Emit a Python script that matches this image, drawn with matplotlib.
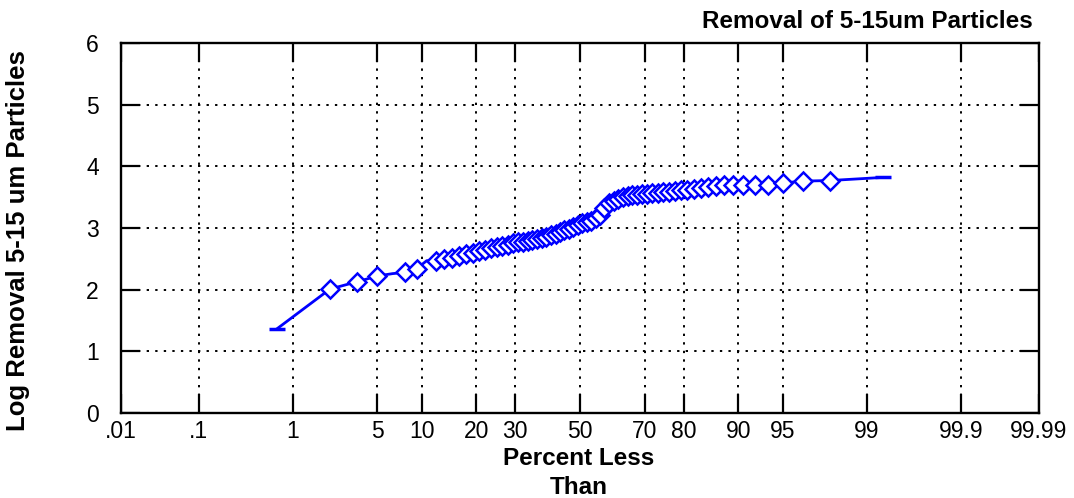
import numpy as np
import matplotlib
matplotlib.use('Agg')
import matplotlib.pyplot as plt
from statistics import NormalDist

plt.rcParams['font.family'] = ['Liberation Sans', 'DejaVu Sans']

# Plotting positions (percent less than) and log removal values
percent_less = [0.71, 2.14, 3.57, 5.00, 6.43, 7.86, 9.29, 10.71, 12.14, 13.57,
                15.00, 16.43, 17.86, 19.29, 20.71, 22.14, 23.57, 25.00, 26.43, 27.86,
                29.29, 30.71, 32.14, 33.57, 35.00, 36.43, 37.86, 39.29, 40.71, 42.14,
                43.57, 45.00, 46.43, 47.86, 49.29, 50.71, 52.14, 53.57, 55.00, 56.43,
                57.86, 59.29, 60.71, 62.14, 63.57, 65.00, 66.43, 67.86, 69.29, 70.71,
                72.14, 73.57, 75.00, 76.43, 77.86, 79.29, 80.71, 82.14, 83.57, 85.00,
                86.43, 87.86, 89.29, 90.71, 92.14, 93.57, 95.00, 96.43, 97.86, 99.29]
log_removal = [1.37, 2.01, 2.13, 2.22, 2.26, 2.28, 2.34, 2.47, 2.47, 2.49,
               2.52, 2.55, 2.58, 2.60, 2.62, 2.65, 2.67, 2.69, 2.71, 2.73,
               2.75, 2.77, 2.78, 2.79, 2.80, 2.82, 2.84, 2.86, 2.88, 2.90,
               2.93, 2.96, 2.99, 3.02, 3.05, 3.08, 3.10, 3.12, 3.16, 3.21,
               3.33, 3.40, 3.44, 3.47, 3.50, 3.52, 3.53, 3.54, 3.55, 3.55,
               3.56, 3.57, 3.58, 3.59, 3.60, 3.61, 3.62, 3.64, 3.65, 3.67,
               3.68, 3.70, 3.70, 3.70, 3.70, 3.70, 3.73, 3.76, 3.77, 3.82]
# points that carry a diamond marker
marker_idx = [i for i in range(1, 69) if i not in (4, 7)]

xtick_vals = [0.01, 0.1, 1, 5, 10, 20, 30, 50, 70, 80, 90, 95, 99, 99.9, 99.99]
xtick_labels = ['.01', '.1', '1', '5', '10', '20', '30', '50', '70', '80',
                '90', '95', '99', '99.9', '99.99']
ytick_vals = [0, 1, 2, 3, 4, 5, 6]

nd = NormalDist()
_inv = np.vectorize(lambda p: nd.inv_cdf(min(max(p / 100.0, 1e-9), 1 - 1e-9)),
                    otypes=[float])
_cdf = np.vectorize(lambda z: nd.cdf(z) * 100.0, otypes=[float])


def fwd(p):
    return _inv(np.asarray(p, dtype=float))


def inv(z):
    return _cdf(np.asarray(z, dtype=float))


fig = plt.figure(figsize=(10.74, 4.98), dpi=100)
ax = fig.add_axes([121 / 1074, 1 - 413 / 498, 918 / 1074, 370 / 498])
ax.set_xscale('function', functions=(fwd, inv))

blue = '#0000ff'
ax.plot(percent_less, log_removal, color=blue, lw=2, marker='D', ms=9,
        mfc='white', mec=blue, mew=1.8, markevery=marker_idx, zorder=3)
ax.plot([percent_less[0], percent_less[-1]], [log_removal[0], log_removal[-1]],
        ls='none', marker='_', ms=12, mew=2.5, color=blue, zorder=3)

ax.set_xlim(0.01, 99.99)
ax.set_ylim(0, 6)
ax.set_xticks(xtick_vals)
ax.set_xticklabels(xtick_labels)
ax.xaxis.set_minor_locator(matplotlib.ticker.NullLocator())
ax.set_yticks(ytick_vals)

ax.grid(True, color='black', linestyle=(0, (1.2, 3.2)), linewidth=1.4)
ax.tick_params(axis='both', which='major', length=0, labelsize=16.5)
ax.tick_params(axis='x', pad=5)
ax.tick_params(axis='y', pad=16)

# inward tick marks on all four sides (about 19 px long)
tx = 19 / 370
ty = 19 / 918
xt = ax.get_xaxis_transform()
yt = ax.get_yaxis_transform()
ax.vlines(xtick_vals, 0, tx, transform=xt, color='black', lw=1.6, zorder=4)
ax.vlines(xtick_vals, 1 - tx, 1, transform=xt, color='black', lw=1.6, zorder=4)
ax.hlines(ytick_vals, 0, ty, transform=yt, color='black', lw=1.6, zorder=4)
ax.hlines(ytick_vals, 1 - ty, 1, transform=yt, color='black', lw=1.6, zorder=4)

for s in ax.spines.values():
    s.set_linewidth(1.7)
    s.set_zorder(5)

fig.text(579 / 1074, 1 - 447 / 498, 'Percent Less\nThan', ha='center', va='top',
         fontsize=17.5, fontweight='bold', linespacing=1.35)
fig.text(18 / 1074, 1 - 241 / 498, 'Log Removal 5-15 um Particles', rotation=90,
         ha='center', va='center', fontsize=18.5, fontweight='bold')
fig.text(1033 / 1074, 1 - 21 / 498, 'Removal of 5-15um Particles', ha='right',
         va='center', fontsize=17.5, fontweight='bold')

fig.savefig('out.png', dpi=100)
